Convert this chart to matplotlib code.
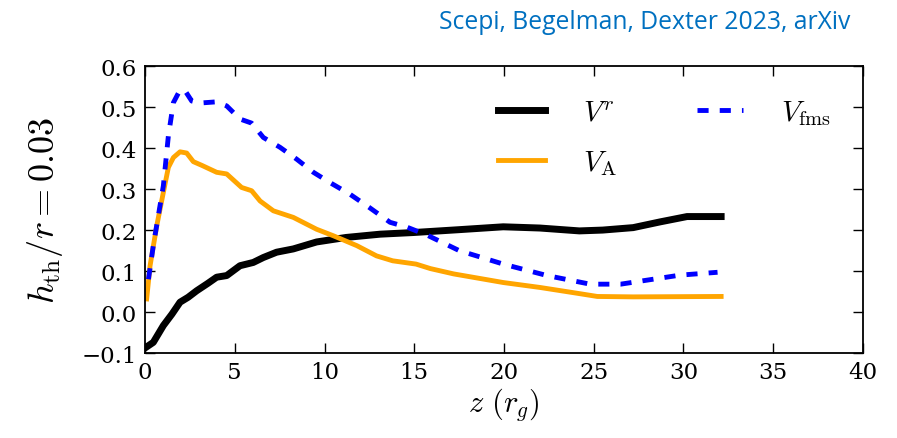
import numpy as np
import matplotlib
matplotlib.use('Agg')
import matplotlib.pyplot as plt
from matplotlib.ticker import FuncFormatter

plt.rcParams['font.family'] = 'DejaVu Serif'
plt.rcParams['mathtext.fontset'] = 'cm'
plt.rcParams['lines.scale_dashes'] = False

# Radial velocity V^r along the jet axis
z_vr = [0.09, 0.46, 1.02, 1.5, 1.95, 2.4, 2.88, 3.5, 3.99, 4.55, 5.29, 6.03,
        6.59, 7.33, 8.26, 9.56, 11.2, 13.1, 14.95, 17.5, 19.96, 22.0, 24.2,
        25.5, 27.2, 28.7, 30.2, 32.1]
vr = [-0.085, -0.074, -0.033, -0.005, 0.024, 0.036, 0.052, 0.07, 0.085, 0.089,
      0.113, 0.121, 0.133, 0.146, 0.154, 0.171, 0.182, 0.19, 0.194, 0.201,
      0.208, 0.205, 0.198, 0.2, 0.206, 0.22, 0.233, 0.233]

# Alfven speed
z_va = [0.09, 0.28, 0.65, 1.02, 1.3, 1.58, 1.95, 2.32, 2.69, 3.16, 3.99, 4.55,
        5.38, 5.94, 6.41, 7.15, 8.26, 9.56, 10.5, 11.8, 12.9, 13.8, 15.1,
        15.9, 17.2, 19.96, 22.0, 24.05, 25.2, 27.2, 32.1]
va = [0.032, 0.113, 0.21, 0.292, 0.353, 0.377, 0.391, 0.388, 0.367, 0.358,
      0.341, 0.337, 0.304, 0.296, 0.271, 0.247, 0.231, 0.202, 0.186, 0.162,
      0.137, 0.125, 0.117, 0.106, 0.093, 0.072, 0.06, 0.046, 0.038, 0.037,
      0.038]

# Fast magnetosonic speed
z_fms = [0.19, 0.46, 1.02, 1.3, 1.58, 1.95, 2.23, 2.6, 3.06, 3.99, 4.55, 5.29,
         5.94, 6.59, 7.52, 8.45, 9.38, 10.3, 11.4, 12.5, 13.65, 14.6, 15.7,
         17.5, 19.96, 22.4, 24.8, 26.5, 28.3, 29.8, 31.9]
vfms = [0.08, 0.162, 0.308, 0.43, 0.511, 0.542, 0.54, 0.515, 0.51, 0.513,
        0.503, 0.471, 0.461, 0.426, 0.402, 0.373, 0.341, 0.316, 0.288, 0.255,
        0.219, 0.207, 0.188, 0.15, 0.117, 0.089, 0.068, 0.068, 0.08, 0.09,
        0.097]

fig = plt.figure(figsize=(8.97, 4.39), dpi=100)
ax = fig.add_axes([0.1617, 0.1936, 0.8003, 0.6534])

ax.plot(z_vr, vr, color='black', lw=5, label=r'$V^r$')
ax.plot(z_va, va, color='orange', lw=3.5, label=r'$V_{\rm A}$')
ax.plot(z_fms, vfms, color='blue', lw=3.5, ls='--', dashes=(8, 8),
        label=r'$V_{\rm fms}$')

ax.set_xlim(0, 40)
ax.set_ylim(-0.1, 0.6)
ax.set_xticks(np.arange(0, 41, 5))
ax.set_yticks(np.arange(-0.1, 0.61, 0.1))
ax.yaxis.set_major_formatter(
    FuncFormatter(lambda v, p: ('%.1f' % v).replace('-', '\u2212')))
ax.tick_params(direction='in', length=7, width=1, top=True, right=True,
               labelsize=16.5, pad=6)
for s in ax.spines.values():
    s.set_linewidth(1.3)

ax.set_xlabel(r'$z\ (r_g)$', fontsize=22, labelpad=1)
ax.set_ylabel(r'$h_{\rm th}/r = 0.03$', fontsize=26, labelpad=12)

ax.legend(ncol=2, frameon=False, loc='upper right', fontsize=21,
          handlelength=1.6, handletextpad=1.3, columnspacing=2.75,
          borderaxespad=0.7, labelspacing=0.75)

fig.text(0.948, 0.948, 'Scepi, Begelman, Dexter 2023, arXiv', color='#0070C0',
         fontsize=17.8, family='Open Sans', ha='right', va='center')

fig.savefig('out.png', dpi=100)
